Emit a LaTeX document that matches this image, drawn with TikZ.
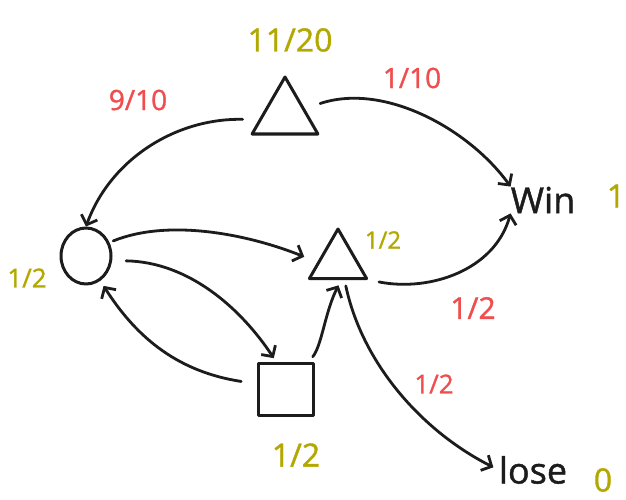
\documentclass[tikz,border=0pt]{standalone}
\usepackage{fontspec}
\setmainfont{Open Sans}[FakeBold=1.2]
\usetikzlibrary{arrows.meta,shapes.geometric}
\definecolor{inkred}{RGB}{240,78,78}
\definecolor{inkolive}{RGB}{178,168,0}
\definecolor{ink}{RGB}{28,28,28}
\begin{document}
\begin{tikzpicture}[x=1pt,y=-1pt,line cap=round,line join=round,
  edge/.style={draw=ink,line width=2.8pt,shorten <=2pt,
    -{Straight Barb[length=8pt,width=17pt,line width=2.8pt]}},
  shapeline/.style={draw=ink,line width=3pt,inner sep=0pt},
  prob/.style={text=inkred,font=\fontsize{28}{28}\selectfont},
  val/.style={text=inkolive,font=\fontsize{28}{28}\selectfont},
  word/.style={text=ink,font=\fontsize{36}{36}\selectfont,inner sep=0pt}]
\fill[white] (0,0) rectangle (626,500);
\useasboundingbox (0,0) rectangle (626,500);
% states
\node[shapeline,regular polygon,regular polygon sides=3,minimum size=76pt] (top) at (285,115) {};
\node[shapeline,regular polygon,regular polygon sides=3,minimum size=66pt] (mid) at (338,262) {};
\node[shapeline,ellipse,minimum width=50pt,minimum height=56pt] (circ) at (86,256) {};
\node[shapeline,rectangle,minimum width=55pt,minimum height=52pt] (sq) at (286,389) {};
\node[word] (win) at (543,200) {Win};
\node[word] (lose) at (533,470) {lose};
% values
\node[val,font=\fontsize{32}{32}\selectfont] (vtop) at (290,40) {11/20};
\node[val,font=\fontsize{24}{24}\selectfont] (vmid) at (383,240) {1/2};
\node[val,font=\fontsize{26}{26}\selectfont] (vcirc) at (27,278) {1/2};
\node[val,font=\fontsize{32}{32}\selectfont] (vsq) at (296,455) {1/2};
\node[val,font=\fontsize{32}{32}\selectfont] (vwin) at (616,196) {1};
\node[val,font=\fontsize{32}{32}\selectfont] (vlose) at (603,480) {0};
% probabilities
\node[prob] (p1) at (138,100) {9/10};
\node[prob] (p2) at (412,78) {1/10};
\node[prob,font=\fontsize{30}{30}\selectfont] (p3) at (473,308) {1/2};
\node[prob,font=\fontsize{26}{26}\selectfont] (p4) at (434,384) {1/2};
% connectors
\draw[edge,shorten <=16pt] (top.190) .. controls (175,118) and (110,160) .. (circ.north);
\draw[edge,shorten <=16pt] (top.18) .. controls (385,82) and (470,130) .. (win.north west);
\draw[edge,shorten <=4pt,shorten >=14pt] (circ.30) .. controls (170,218) and (250,235) .. (mid.west);
\draw[edge,shorten <=10pt] (mid.330) .. controls (430,292) and (495,270) .. (win.south west);
\draw[edge,shorten <=6pt,shorten >=6pt] (mid.290) .. controls (362,362) and (420,430) .. (lose.west);
\draw[edge,shorten <=14pt,shorten >=4pt] (circ.-10) .. controls (190,262) and (242,310) .. (sq.110);
\draw[edge,shorten <=16pt,shorten >=6pt] (sq.170) .. controls (180,372) and (138,340) .. (circ.-60);
\draw[edge,shorten <=6pt,shorten >=6pt] (sq.50) .. controls (322,345) and (325,312) .. (mid.280);
\end{tikzpicture}
\end{document}
